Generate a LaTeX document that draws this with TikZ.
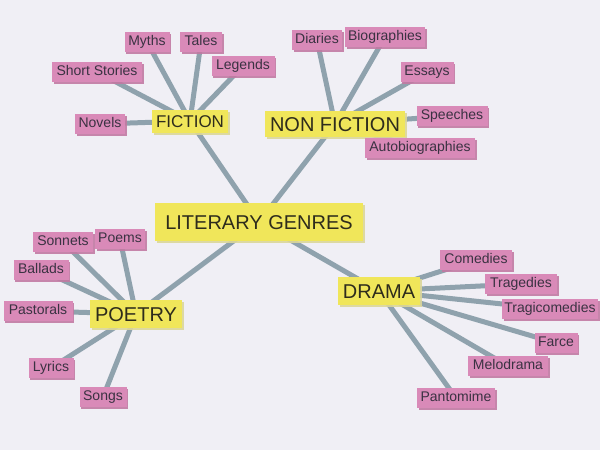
\documentclass[tikz,border=0pt]{standalone}
\usepackage{fontspec}
\setmainfont{Liberation Sans}
\usetikzlibrary{shadows}
\definecolor{bgc}{HTML}{F0EFF5}
\definecolor{pinkc}{HTML}{D98AB8}
\definecolor{pinksh}{HTML}{C27AA3}
\definecolor{yelc}{HTML}{F0E65A}
\definecolor{yelsh}{HTML}{DCD79A}
\definecolor{linec}{HTML}{8FA2AD}
\definecolor{txtc}{HTML}{3A3242}
\definecolor{hubtxt}{HTML}{2E2C1C}
\pgfdeclarelayer{bg}\pgfdeclarelayer{lines}
\pgfsetlayers{bg,lines,main}
\tikzset{
 leaf/.style={fill=pinkc, text=txtc, font=\fontsize{14}{16}\selectfont, inner xsep=2pt, inner ysep=0pt, text height=10pt, text depth=3pt, minimum height=20pt, drop shadow={shadow xshift=1.5pt, shadow yshift=-1.5pt, fill=pinksh, opacity=0.9}},
 hub/.style={fill=yelc, text=hubtxt, inner xsep=2pt, inner ysep=0pt, drop shadow={shadow xshift=2pt, shadow yshift=-2pt, fill=yelsh, opacity=0.9}},
 link/.style={draw=linec, line width=5pt},
}
\begin{document}
\begin{tikzpicture}[x=1pt,y=-1pt]
\useasboundingbox (0,0) rectangle (600,450);
\begin{pgfonlayer}{bg}\fill[bgc] (0,0) rectangle (600,450);\end{pgfonlayer}
% hubs
\node[hub, font=\fontsize{20}{24}\selectfont, text height=14.5pt, text depth=0pt, minimum width=208pt, minimum height=38pt] (lg) at (259,222) {LITERARY GENRES};
\node[hub, font=\fontsize{17}{20}\selectfont, text height=12.3pt, text depth=0pt, minimum width=76pt, minimum height=23pt] (fic) at (190,121) {FICTION};
\node[hub, font=\fontsize{20}{24}\selectfont, text height=14.5pt, text depth=0pt, minimum width=140pt, minimum height=26pt] (nf) at (335,124) {NON FICTION};
\node[hub, font=\fontsize{20}{24}\selectfont, text height=14.5pt, text depth=0pt, minimum width=92pt, minimum height=28pt] (po) at (136,314) {POETRY};
\node[hub, font=\fontsize{20}{24}\selectfont, text height=14.5pt, text depth=0pt, minimum width=82pt, minimum height=28pt] (dr) at (379,291) {DRAMA};
% fiction leaves
\node[leaf, minimum width=45pt] (myths) at (147,42) {Myths};
\node[leaf, minimum width=42pt] (tales) at (201,42) {Tales};
\node[leaf, minimum width=90pt] (short) at (97,72) {Short Stories};
\node[leaf, minimum width=63pt] (legends) at (243,66) {Legends};
\node[leaf, minimum width=50pt] (novels) at (100,124) {Novels};
% non fiction leaves
\node[leaf, minimum width=50pt] (diaries) at (317,40) {Diaries};
\node[leaf, minimum width=80pt] (bio) at (385,37) {Biographies};
\node[leaf, minimum width=53pt] (essays) at (427,72) {Essays};
\node[leaf, minimum width=71pt] (speeches) at (452,116) {Speeches};
\node[leaf, minimum width=110pt] (autobio) at (420,148) {Autobiographies};
% poetry leaves
\node[leaf, minimum width=60pt] (sonnets) at (63,242) {Sonnets};
\node[leaf, minimum width=50pt] (poems) at (120,239) {Poems};
\node[leaf, minimum width=55pt] (ballads) at (41,270) {Ballads};
\node[leaf, minimum width=69pt] (pastorals) at (38,311) {Pastorals};
\node[leaf, minimum width=45pt] (lyrics) at (51,368) {Lyrics};
\node[leaf, minimum width=47pt] (songs) at (103,397) {Songs};
% drama leaves
\node[leaf, minimum width=72pt] (comedies) at (476,260) {Comedies};
\node[leaf, minimum width=72pt] (tragedies) at (521,284) {Tragedies};
\node[leaf, minimum width=96pt] (tragicom) at (550,309) {Tragicomedies};
\node[leaf, minimum width=43pt] (farce) at (556,343) {Farce};
\node[leaf, minimum width=80pt] (melo) at (508,366) {Melodrama};
\node[leaf, minimum width=78pt] (panto) at (456,398) {Pantomime};
% connectors
\begin{pgfonlayer}{lines}
\foreach \a/\b in {lg/fic, lg/nf, lg/po, lg/dr,
  fic/myths, fic/tales, fic/short, fic/legends, fic/novels,
  nf/diaries, nf/bio, nf/essays, nf/speeches, nf/autobio,
  po/sonnets, po/poems, po/ballads, po/pastorals, po/lyrics, po/songs,
  dr/comedies, dr/tragedies, dr/tragicom, dr/farce, dr/melo, dr/panto}
  \draw[link] (\a.center) -- (\b.center);
\end{pgfonlayer}
\end{tikzpicture}
\end{document}
